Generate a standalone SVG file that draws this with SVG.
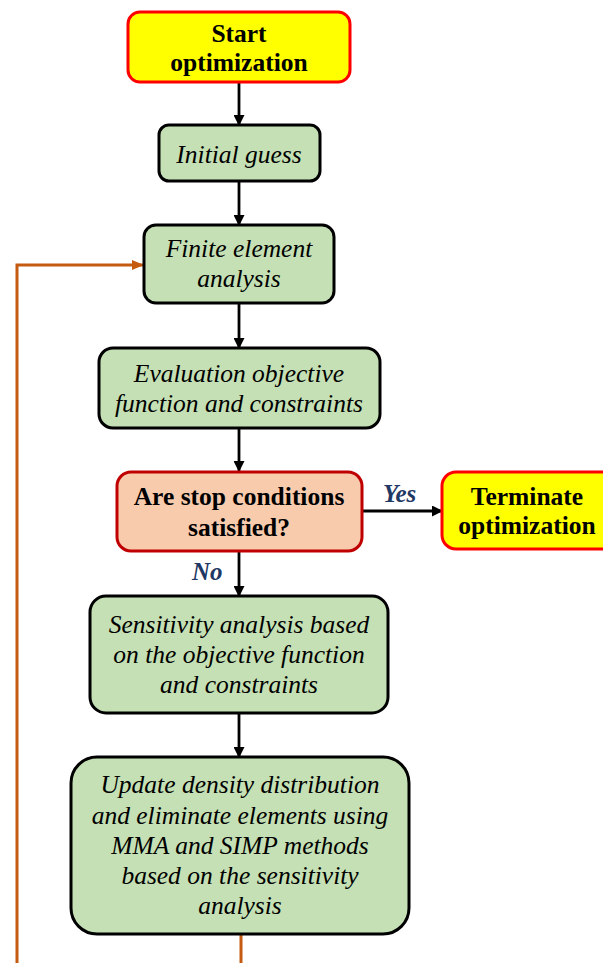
<svg xmlns="http://www.w3.org/2000/svg" width="603" height="963" viewBox="0 0 603 963">
<defs>
<marker id="ah" markerWidth="11" markerHeight="11" refX="10" refY="5.5" orient="auto" markerUnits="userSpaceOnUse"><path d="M0,0 L11,5.5 L0,11 z" fill="#000"/></marker>
<marker id="ahO" markerWidth="12" markerHeight="10" refX="11" refY="5" orient="auto" markerUnits="userSpaceOnUse"><path d="M0,0 L12,5 L0,10 z" fill="#C55A11"/></marker>
<style>
.g{fill:#C5E0B4;stroke:#000;stroke-width:3}
.y{fill:#FFFF00;stroke:#FF0000;stroke-width:3}
.d{fill:#F8CBAD;stroke:#C00000;stroke-width:3}
.it{font-family:"Liberation Serif","Times New Roman",serif;font-style:italic;font-size:25.5px;fill:#000;text-anchor:middle}
.b{font-family:"Liberation Serif","Times New Roman",serif;font-weight:bold;font-size:25.5px;fill:#000;text-anchor:middle}
.lab{font-family:"Liberation Serif","Times New Roman",serif;font-weight:bold;font-style:italic;font-size:25px;fill:#1F3864}
.c{stroke:#000;stroke-width:2.8;fill:none;marker-end:url(#ah)}
.o{stroke:#C55A11;stroke-width:3;fill:none}
</style>
</defs>
<g id="connectors">
<line class="c" x1="239" y1="82" x2="239" y2="125"/>
<line class="c" x1="239" y1="181" x2="239" y2="225"/>
<line class="c" x1="239" y1="303" x2="239" y2="348"/>
<line class="c" x1="239" y1="428" x2="239" y2="471"/>
<line class="c" x1="239" y1="551" x2="239" y2="596"/>
<line class="c" x1="239" y1="713" x2="239" y2="757"/>
<line class="c" x1="362" y1="511" x2="442" y2="511"/>
<line class="o" x1="241" y1="935" x2="241" y2="963"/>
<path class="o" d="M17,963 L17,265 L143,265" marker-end="url(#ahO)"/>
<text class="lab" x="383" y="502">Yes</text>
<text class="lab" x="192" y="580">No</text>
</g>
<g id="start">
<rect class="y" x="128" y="12" width="222" height="70" rx="12"/>
<text class="b" x="239" y="42">Start</text>
<text class="b" x="239" y="71">optimization</text>
</g>
<g id="initial">
<rect class="g" x="159" y="125" width="161" height="56" rx="10"/>
<text class="it" x="239" y="163">Initial guess</text>
</g>
<g id="fea">
<rect class="g" x="144" y="225" width="190" height="78" rx="12"/>
<text class="it" x="239" y="257">Finite element</text>
<text class="it" x="239" y="287">analysis</text>
</g>
<g id="eval">
<rect class="g" x="99" y="348" width="281" height="80" rx="14"/>
<text class="it" x="239" y="382">Evaluation objective</text>
<text class="it" x="239" y="412">function and constraints</text>
</g>
<g id="decision">
<rect class="d" x="117" y="472" width="245" height="79" rx="14"/>
<text class="b" x="239" y="505">Are stop conditions</text>
<text class="b" x="239" y="536">satisfied?</text>
</g>
<g id="terminate">
<rect class="y" x="442" y="472" width="180" height="77" rx="14"/>
<text class="b" x="527" y="505">Terminate</text>
<text class="b" x="527" y="534">optimization</text>
</g>
<g id="sensitivity">
<rect class="g" x="90" y="596" width="298" height="117" rx="16"/>
<text class="it" x="239" y="633">Sensitivity analysis based</text>
<text class="it" x="239" y="663">on the objective function</text>
<text class="it" x="239" y="693">and constraints</text>
</g>
<g id="update">
<rect class="g" x="71" y="757" width="338" height="177" rx="26"/>
<text class="it" x="240" y="793">Update density distribution</text>
<text class="it" x="240" y="824">and eliminate elements using</text>
<text class="it" x="240" y="854">MMA and SIMP methods</text>
<text class="it" x="240" y="884">based on the sensitivity</text>
<text class="it" x="240" y="914">analysis</text>
</g>
</svg>
